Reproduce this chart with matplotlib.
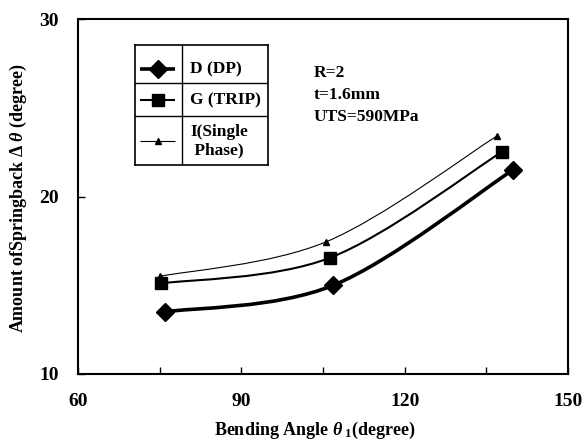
import numpy as np
import matplotlib
matplotlib.use("Agg")
import matplotlib.pyplot as plt
from matplotlib.path import Path
from matplotlib.patches import PathPatch

plt.rcParams["font.family"] = ["Liberation Serif", "DejaVu Serif"]
plt.rcParams["font.weight"] = "bold"
plt.rcParams["mathtext.fontset"] = "custom"
plt.rcParams["mathtext.rm"] = "Liberation Serif:bold"
plt.rcParams["mathtext.it"] = "Liberation Serif:italic:bold"
plt.rcParams["mathtext.bf"] = "Liberation Serif:bold"

# springback data
angle_D = [75.9, 106.9, 139.9]
spring_D = [13.5, 15.0, 21.5]
angle_G = [75.2, 106.3, 137.8]
spring_G = [15.1, 16.55, 22.5]
angle_I = [75.0, 105.6, 136.9]
spring_I = [15.5, 17.45, 23.4]

labels = ["D (DP)", "G (TRIP)", "I(Single\n Phase)"]
info = ["R=2", "t=1.6mm", "UTS=590MPa"]


def smooth_path(x, y):
    # excel-like smoothed line through the points (catmull-rom as beziers)
    p = np.column_stack([x, y])
    pts = np.vstack([p[0], p, p[-1]])
    verts = [p[0]]
    codes = [Path.MOVETO]
    for i in range(1, len(pts) - 2):
        c1 = pts[i] + (pts[i + 1] - pts[i - 1]) / 6.0
        c2 = pts[i + 1] - (pts[i + 2] - pts[i]) / 6.0
        verts += [c1, c2, pts[i + 1]]
        codes += [Path.CURVE4] * 3
    return Path(verts, codes)


W, H = 587, 441
fig = plt.figure(figsize=(W / 100, H / 100), dpi=100)
ax = fig.add_axes([78 / W, 1 - 374 / H, 490 / W, 355 / H])

series = [
    (angle_D, spring_D, "D", 9, 2.6),
    (angle_G, spring_G, "s", 8, 1.5),
    (angle_I, spring_I, "^", 5, 0.8),
]
for xs, ys, mk, ms, lw in series:
    ax.add_patch(PathPatch(smooth_path(xs, ys), facecolor="none", edgecolor="black", lw=lw))
    ax.plot(xs, ys, linestyle="none", marker=mk, markersize=ms, color="black")

ax.set_xlim(60, 150)
ax.set_ylim(10, 30)
ax.set_xticks(np.arange(60, 151, 15))
ax.set_xticklabels(["60", "", "90", "", "120", "", "150"])
ax.set_yticks([10, 20, 30])
ax.tick_params(direction="in", length=5, width=1, labelsize=14, pad=14)
for sp in ax.spines.values():
    sp.set_linewidth(1.5)

fig.text(315 / W, 1 - 430 / H, r"Bending Angle $\theta_{\ 1}$(degree)", fontsize=13,
         fontweight="bold", ha="center", va="center")
fig.text(18 / W, 1 - 198 / H, r"Amount ofSpringback $\Delta$ $\theta$ (degree)", fontsize=13,
         fontweight="bold", ha="center", va="center", rotation=90)

for i, t in enumerate(info):
    fig.text(314 / W, 1 - (73 + 22 * i) / H, t, fontsize=12.5, fontweight="bold", va="center")

# boxed legend drawn as a little table
lg = fig.add_axes([135 / W, 1 - 165 / H, 133 / W, 120 / H])
lg.set_xlim(0, 133)
lg.set_ylim(120, 0)
lg.set_xticks([])
lg.set_yticks([])
for sp in lg.spines.values():
    sp.set_linewidth(1.2)
lg.plot([47, 47], [0, 120], color="black", lw=1)
lg.plot([0, 133], [38, 38], color="black", lw=1)
lg.plot([0, 133], [71, 71], color="black", lw=1)
rows = [24, 55, 96]
for (xs, ys, mk, ms, lw), lab, yy in zip(series, labels, rows):
    lg.plot([5, 22.5, 40], [yy, yy, yy], color="black", lw=lw, marker=mk, markersize=ms,
            markevery=[1], solid_capstyle="butt")
    lg.text(55, yy, lab, fontsize=12.5, fontweight="bold", va="center", ha="left")

fig.savefig("out.png", dpi=100)
